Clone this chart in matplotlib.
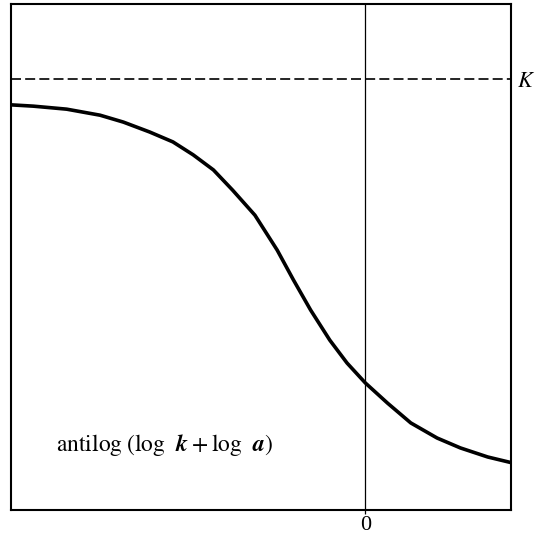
import matplotlib
matplotlib.use("Agg")
import matplotlib.pyplot as plt

plt.rcParams["font.family"] = ["Liberation Serif", "DejaVu Serif"]
plt.rcParams["mathtext.fontset"] = "stix"

# curve (x in log units, y relative to K)
x_curve = [-3.50, -3.28, -2.95, -2.62, -2.39, -2.13, -1.90, -1.70, -1.50,
           -1.31, -1.09, -0.87, -0.71, -0.54, -0.35, -0.18, 0.00, 0.22,
           0.45, 0.71, 0.94, 1.21, 1.44]
y_curve = [0.940, 0.937, 0.930, 0.916, 0.900, 0.877, 0.854, 0.824, 0.789,
           0.742, 0.684, 0.603, 0.534, 0.464, 0.394, 0.341, 0.295, 0.248,
           0.202, 0.167, 0.144, 0.123, 0.110]
K = 1.0
x_ticks = [0]
x_labels = ["0"]

fig = plt.figure(figsize=(5.45, 5.39), dpi=100)
ax = fig.add_axes([11 / 545, 29 / 539, 500 / 545, 506 / 539])

ax.plot(x_curve, y_curve, color="black", lw=2.6, solid_capstyle="butt",
        solid_joinstyle="round")
ax.axhline(K, color="black", lw=1.2, ls=(0, (6, 2.5)))
ax.axvline(0, color="black", lw=0.9)

ax.set_xlim(-3.5, 1.44)
ax.set_ylim(0, 1.174)
ax.set_xticks(x_ticks)
ax.set_xticklabels(x_labels, fontsize=16)
ax.set_yticks([])
ax.tick_params(axis="x", length=3, width=0.9, pad=1)
for s in ax.spines.values():
    s.set_linewidth(1.5)

ax.text(1.012, K - 0.008, "$K$", transform=ax.get_yaxis_transform(),
        fontsize=16, va="center", ha="left")
ax.text(-3.06, 0.151,
        r"$\mathrm{antilog}\;(\mathrm{log}\ \ \boldsymbol{k}\:+\:\mathrm{log}\ \ \boldsymbol{a})$",
        fontsize=17, va="center", ha="left")

fig.savefig("out.png", dpi=100)
